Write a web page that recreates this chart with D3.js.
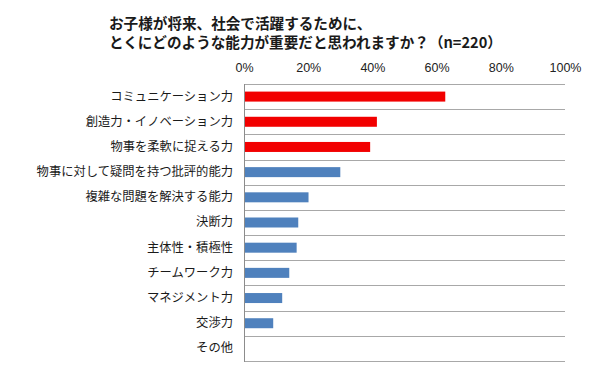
<!DOCTYPE html>
<html>
<head>
<meta charset="utf-8">
<script src="https://cdn.jsdelivr.net/npm/d3@7"></script>
<style>
  body { margin: 0; background: #fff; }
  svg { display: block; font-family: "Noto Sans CJK JP", "Noto Sans", sans-serif; }
</style>
</head>
<body>
<svg id="chart" width="600" height="373"></svg>
<script>
const titleLines = ["お子様が将来、社会で活躍するために、", "とくにどのような能力が重要だと思われますか？（n=220）"];
const categories = ["コミュニケーション力", "創造力・イノベーション力", "物事を柔軟に捉える力",
  "物事に対して疑問を持つ批評的能力", "複雑な問題を解決する能力", "決断力", "主体性・積極性",
  "チームワーク力", "マネジメント力", "交渉力", "その他"];
const values = [62.7, 41.4, 39.3, 30.0, 20.1, 16.9, 16.4, 14.1, 11.9, 9.1, 0];
const highlighted = [true, true, true, false, false, false, false, false, false, false, false];
const tickValues = [0, 20, 40, 60, 80, 100];

const svg = d3.select("#chart");
const plotLeft = 244, plotRight = 565, plotTop = 84, plotBottom = 361;

const x = d3.scaleLinear().domain([0, 100]).range([plotLeft, plotRight]);
const y = d3.scaleBand().domain(categories).range([plotTop, plotBottom]);
const bandStep = y.step();
const barH = 10;

// title
svg.append("g").selectAll("text")
  .data(titleLines)
  .enter().append("text")
  .attr("x", 109)
  .attr("y", (d, i) => 29 + i * 19)
  .style("font-size", "14.6px")
  .style("font-weight", "bold")
  .attr("fill", "#1a1a1a")
  .text(d => d);

// separator lines between categories
svg.append("g").selectAll("line")
  .data(d3.range(categories.length + 1))
  .enter().append("line")
  .attr("x1", plotLeft).attr("x2", plotRight)
  .attr("y1", i => Math.round(plotTop + i * bandStep) + 0.5)
  .attr("y2", i => Math.round(plotTop + i * bandStep) + 0.5)
  .attr("stroke", "#a8a8a8")
  .attr("stroke-width", 1);

// top axis labels
const xAxis = d3.axisTop(x).tickValues(tickValues).tickFormat(d => d + "%").tickSize(0).tickPadding(0);
const gx = svg.append("g").attr("transform", "translate(0,72)").call(xAxis);
gx.select(".domain").remove();
gx.selectAll("text")
  .style("font-size", "12.5px")
  .style("font-family", "'Liberation Sans', Arial, sans-serif")
  .attr("fill", "#222");

// bars
svg.append("g").selectAll("rect")
  .data(categories)
  .enter().append("rect")
  .attr("x", x(0))
  .attr("y", d => y(d) + (bandStep - barH) / 2)
  .attr("width", (d, i) => x(values[i]) - x(0))
  .attr("height", barH)
  .attr("fill", (d, i) => highlighted[i] ? "#f20000" : "#4f81bd");

// category labels
const yAxis = d3.axisLeft(y).tickSize(0).tickPadding(11);
const gy = svg.append("g").attr("transform", `translate(${plotLeft},0)`).call(yAxis);
gy.select(".domain").remove();
gy.selectAll("text")
  .style("font-size", "12.3px")
  .style("font-family", "'Noto Sans CJK JP', sans-serif")
  .attr("fill", "#1a1a1a");

// vertical axis line
svg.append("line")
  .attr("x1", plotLeft + 0.5).attr("x2", plotLeft + 0.5)
  .attr("y1", plotTop).attr("y2", plotBottom + 1)
  .attr("stroke", "#8c8c8c");
</script>
</body>
</html>
